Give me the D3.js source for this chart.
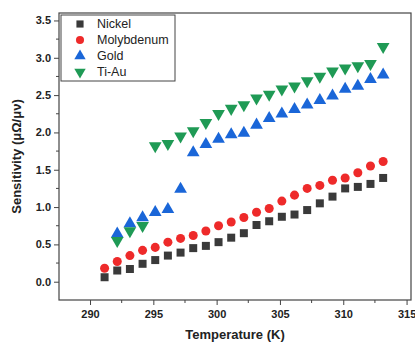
<!DOCTYPE html>
<html>
<head>
<meta charset="utf-8">
<script src="https://cdn.jsdelivr.net/npm/d3@7"></script>
<style>
  body { margin: 0; background: #fff; }
  svg { display: block; font-family: Arial, "Liberation Sans", sans-serif; }
</style>
</head>
<body>
<svg id="chart"></svg>
<script>
// temperatures (K), 18..40 °C
const temps = [291.15, 292.15, 293.15, 294.15, 295.15, 296.15, 297.15, 298.15, 299.15, 300.15,
    301.15, 302.15, 303.15, 304.15, 305.15, 306.15, 307.15, 308.15, 309.15, 310.15, 311.15, 312.15, 313.15];

const nickel = [0.06, 0.15, 0.17, 0.24, 0.29, 0.35, 0.39, 0.45, 0.48, 0.53, 0.59, 0.65,
    0.76, 0.81, 0.87, 0.90, 0.96, 1.05, 1.14, 1.25, 1.27, 1.31, 1.39];
const molybdenum = [0.18, 0.27, 0.35, 0.42, 0.46, 0.53, 0.58, 0.62, 0.68, 0.75, 0.80, 0.86,
    0.93, 0.98, 1.08, 1.16, 1.25, 1.29, 1.36, 1.39, 1.46, 1.55, 1.61];
// gold and Ti-Au start at 292.15
const gold = [null, 0.64, 0.78, 0.86, 0.93, 0.97, 1.24, 1.73, 1.84, 1.91, 1.97, 1.99,
    2.10, 2.19, 2.25, 2.31, 2.37, 2.43, 2.49, 2.58, 2.62, 2.71, 2.77];
const tiau = [null, 0.55, 0.68, 0.75, 1.82, 1.85, 1.95, 2.02, 2.13, 2.25, 2.32, 2.37,
    2.46, 2.51, 2.58, 2.62, 2.69, 2.75, 2.82, 2.86, 2.89, 2.92, 3.15];

const seriesNames = ["Nickel", "Molybdenum", "Gold", "Ti-Au"];
const seriesValues = [nickel, molybdenum, gold, tiau];
const xTicks = [290, 295, 300, 305, 310, 315];
const yTicks = [0.0, 0.5, 1.0, 1.5, 2.0, 2.5, 3.0, 3.5];

const colors = ["#3a3a3a", "#ee2a2a", "#1a66d8", "#1f9a55"];
const symbols = [d3.symbolSquare, d3.symbolCircle, d3.symbolTriangle, d3.symbolTriangle];
const sizes = [64, 64, 70, 70];
const rotations = [0, 0, 0, 180];

const W = 415, H = 345;
const margin = { top: 13, right: 4, bottom: 45, left: 59 };
const width = W - margin.left - margin.right,
      height = H - margin.top - margin.bottom;

const svg = d3.select("#chart").attr("width", W).attr("height", H);
const g = svg.append("g").attr("transform", `translate(${margin.left},${margin.top})`);

const x = d3.scaleLinear().domain([287.55, 315.35]).range([0, width]);
const y = d3.scaleLinear().domain([-0.245, 3.6]).range([height, 0]);

// frame
g.append("rect")
    .attr("width", width).attr("height", height)
    .attr("fill", "none").attr("stroke", "#444").attr("stroke-width", 1.2);

// minor ticks
const xMinor = d3.range(287.5, 315.1, 2.5).filter(v => v % 5 !== 0 && x(v) >= 0);
const yMinor = d3.range(-0.25, 3.6, 0.25).filter(v => Math.abs(v * 2 - Math.round(v * 2)) > 0.01 && y(v) <= height);

g.selectAll(".xminor").data(xMinor).enter().append("line")
    .attr("x1", d => x(d)).attr("x2", d => x(d))
    .attr("y1", height).attr("y2", height + 3)
    .attr("stroke", "#444");
g.selectAll(".yminor").data(yMinor).enter().append("line")
    .attr("x1", -3).attr("x2", 0)
    .attr("y1", d => y(d)).attr("y2", d => y(d))
    .attr("stroke", "#444");

const xAxis = g.append("g")
    .attr("transform", `translate(0,${height})`)
    .call(d3.axisBottom(x).tickValues(xTicks).tickFormat(d3.format("d")).tickSize(5).tickSizeOuter(0));
const yAxis = g.append("g")
    .call(d3.axisLeft(y).tickValues(yTicks).tickFormat(d3.format(".1f")).tickSize(5).tickSizeOuter(0));

[xAxis, yAxis].forEach(a => {
    a.select(".domain").remove();
    a.selectAll("line").attr("stroke", "#444");
    a.selectAll("text")
        .style("font-size", "11px")
        .style("font-weight", "bold")
        .attr("fill", "#222");
});
xAxis.selectAll("text").attr("dy", "0.95em");

// points
seriesValues.forEach((vals, i) => {
    const pts = temps.map((t, j) => ({ t, v: vals[j] })).filter(d => d.v != null);
    g.selectAll(".s" + i).data(pts).enter().append("path")
        .attr("d", d3.symbol().type(symbols[i]).size(sizes[i]))
        .attr("transform", d => `translate(${x(d.t)},${y(d.v)}) rotate(${rotations[i]})`)
        .attr("fill", colors[i]);
});

// legend
const legend = g.append("g").attr("transform", "translate(2,2)");
legend.append("rect")
    .attr("width", 114).attr("height", 66)
    .attr("fill", "#fff").attr("stroke", "#444").attr("stroke-width", 1);
seriesNames.forEach((name, i) => {
    const row = legend.append("g").attr("transform", `translate(0,${9 + i * 16})`);
    row.append("path")
        .attr("d", d3.symbol().type(symbols[i]).size(sizes[i] * 0.8))
        .attr("transform", `translate(19,0) rotate(${rotations[i]})`)
        .attr("fill", colors[i]);
    row.append("text")
        .attr("x", 36).attr("y", 0).attr("dy", "0.35em")
        .style("font-size", "12.5px")
        .attr("fill", "#222")
        .text(name);
});

// axis titles
svg.append("text")
    .attr("x", margin.left + width / 2).attr("y", 339)
    .attr("text-anchor", "middle")
    .style("font-size", "13px").style("font-weight", "bold")
    .attr("fill", "#222")
    .text("Temperature (K)");

svg.append("text")
    .attr("transform", `translate(21,${margin.top + height / 2}) rotate(-90)`)
    .attr("text-anchor", "middle")
    .style("font-size", "13px").style("font-weight", "bold")
    .attr("fill", "#222")
    .text("Sensitivity (μΩ/μν)");
</script>
</body>
</html>
